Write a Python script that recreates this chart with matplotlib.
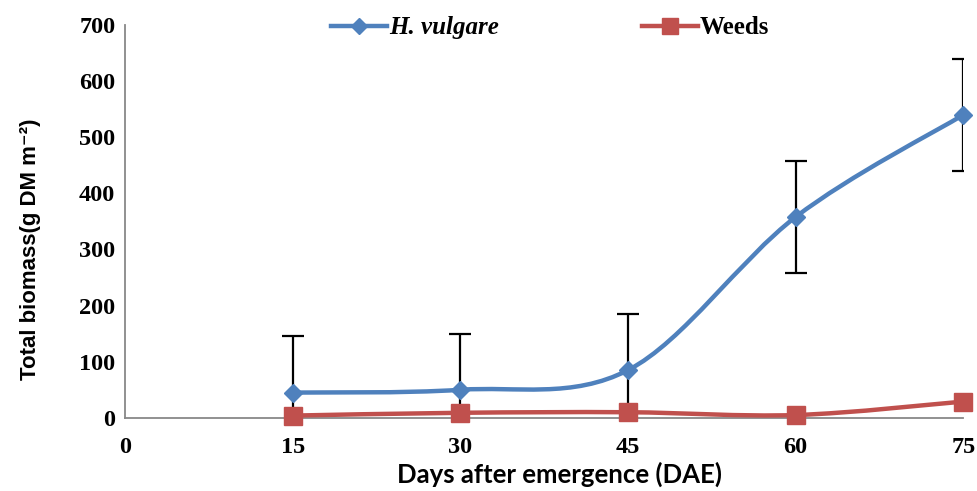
import numpy as np
import matplotlib.pyplot as plt
from matplotlib.path import Path
from matplotlib.patches import PathPatch
from matplotlib.lines import Line2D

# data
days = [15, 30, 45, 60, 75]
hordeum = [45, 50, 85, 358, 540]
hordeum_err = [100, 100, 100, 100, 100]
weeds = [4, 9, 10, 5, 29]

x_ticks = [0, 15, 30, 45, 60, 75]
y_ticks = [0, 100, 200, 300, 400, 500, 600, 700]

blue = '#4F81BD'
red = '#C0504D'


def smooth_path(x, y):
    # Excel-like smoothed line: cardinal spline as cubic bezier pieces
    pts = np.column_stack([x, y]).astype(float)
    n = len(pts)
    verts = [pts[0]]
    codes = [Path.MOVETO]
    for i in range(n - 1):
        p0 = pts[i - 1] if i > 0 else pts[i]
        p1 = pts[i]
        p2 = pts[i + 1]
        p3 = pts[i + 2] if i + 2 < n else pts[i + 1]
        c1 = p1 + (p2 - p0) / 6
        c2 = p2 - (p3 - p1) / 6
        verts += [c1, c2, p2]
        codes += [Path.CURVE4] * 3
    return Path(verts, codes)


fig = plt.figure(figsize=(9.77, 4.91), dpi=100)
ax = fig.add_axes([0.128, 0.149, 0.858, 0.800])

ax.errorbar(days, hordeum, yerr=hordeum_err, fmt='none', ecolor='black',
            elinewidth=1.6, capsize=8, capthick=1.6, zorder=2)

for yv, col in [(hordeum, blue), (weeds, red)]:
    ax.add_patch(PathPatch(smooth_path(days, yv), facecolor='none',
                           edgecolor=col, lw=3.2, zorder=3, clip_on=False,
                           capstyle='round'))

ax.plot(days, hordeum, ls='none', marker='D', ms=9, color=blue,
        zorder=4, clip_on=False)
ax.plot(days, weeds, ls='none', marker='s', ms=13, color=red,
        zorder=4, clip_on=False)

ax.set_xlim(0, 75)
ax.set_ylim(0, 700)
ax.set_xticks(x_ticks)
ax.set_yticks(y_ticks)
ax.tick_params(axis='y', length=0, pad=7)
ax.tick_params(axis='x', length=0, pad=14)
for lab in ax.get_xticklabels() + ax.get_yticklabels():
    lab.set_fontfamily('Liberation Serif')
    lab.set_fontweight('bold')
    lab.set_fontsize(17.5)

for s in ['top', 'right']:
    ax.spines[s].set_visible(False)
for s in ['left', 'bottom']:
    ax.spines[s].set_color('#888888')
    ax.spines[s].set_linewidth(1.3)

ax.set_ylabel('Total biomass(g DM m\u207b\u00b2)', family=['Liberation Sans', 'DejaVu Sans'],
              fontweight='bold', fontsize=16)
ax.yaxis.set_label_coords(-0.10, 0.43)
ax.set_xlabel('Days after emergence (DAE)', family='Lato',
              fontweight='bold', fontsize=18.5)
ax.xaxis.set_label_coords(0.518, -0.112)

handles = [Line2D([], [], color=blue, lw=3.2, marker='D', ms=8),
           Line2D([], [], color=red, lw=3.2, marker='s', ms=11)]
leg = fig.legend(handles, ['H. vulgare', 'Weeds'], loc='center',
                 bbox_to_anchor=(0.563, 0.943), ncol=2, frameon=False,
                 handlelength=2.24, handletextpad=0.1, columnspacing=5.7,
                 prop={'family': 'Liberation Serif', 'weight': 'bold', 'size': 18})
leg.get_texts()[0].set_style('italic')

fig.savefig('out.png', dpi=100)
